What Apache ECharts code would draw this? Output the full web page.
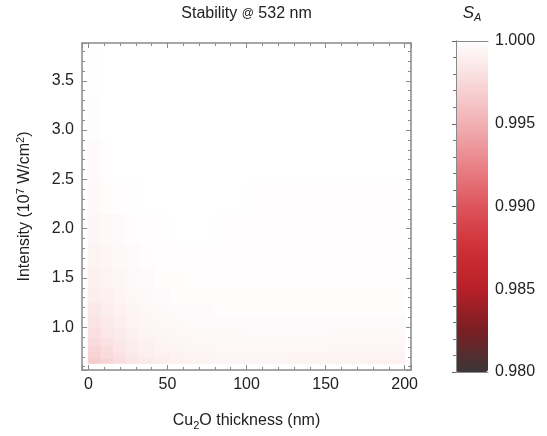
<!DOCTYPE html>
<html>
<head>
<meta charset="utf-8">
<script src="https://cdn.jsdelivr.net/npm/echarts@6/dist/echarts.min.js"></script>
<style>
html,body{margin:0;padding:0;background:#fff;}
#main{width:547px;height:436px;}
</style>
</head>
<body>
<div id="main"></div>
<script>
// cell edges (thickness in nm, intensity in 1e7 W/cm2)
var xEdges = [0, 8, 16, 24, 32, 42, 52, 64, 80, 100, 125, 150, 175, 200];
var yEdges = [0.635, 0.69, 0.75, 0.82, 0.9, 1.0, 1.12, 1.25, 1.4, 1.6, 1.85, 2.15, 2.5, 2.9, 3.35, 3.86];
// S_A per cell, bottom row first
var sRows = [
  [0.9967, 0.9973, 0.9978, 0.9983, 0.9986, 0.9989, 0.9991, 0.9992, 0.9993, 0.9993, 0.9992, 0.9992, 0.9991],
  [0.9970, 0.9976, 0.9981, 0.9985, 0.9988, 0.9990, 0.9992, 0.9993, 0.9994, 0.9994, 0.9993, 0.9993, 0.9992],
  [0.9973, 0.9978, 0.9983, 0.9987, 0.9990, 0.9992, 0.9993, 0.9994, 0.9995, 0.9995, 0.9995, 0.9994, 0.9994],
  [0.9976, 0.9981, 0.9985, 0.9989, 0.9991, 0.9993, 0.9994, 0.9995, 0.9996, 0.9996, 0.9996, 0.9995, 0.9995],
  [0.9979, 0.9984, 0.9987, 0.9990, 0.9993, 0.9994, 0.9995, 0.9996, 0.9996, 0.9997, 0.9997, 0.9996, 0.9996],
  [0.9982, 0.9986, 0.9989, 0.9992, 0.9994, 0.9995, 0.9996, 0.9997, 0.9997, 0.9997, 0.9997, 0.9997, 0.9997],
  [0.9985, 0.9988, 0.9991, 0.9993, 0.9995, 0.9996, 0.9997, 0.9997, 0.9998, 0.9998, 0.9998, 0.9998, 0.9998],
  [0.9988, 0.9990, 0.9993, 0.9995, 0.9996, 0.9997, 0.9998, 0.9998, 0.9998, 0.9998, 0.9998, 0.9998, 0.9998],
  [0.9990, 0.9992, 0.9994, 0.9996, 0.9997, 0.9998, 0.9998, 0.9999, 0.9999, 0.9999, 0.9999, 0.9999, 0.9999],
  [0.9992, 0.9994, 0.9996, 0.9997, 0.9998, 0.9999, 0.9999, 0.9999, 0.9999, 0.9999, 0.9999, 0.9999, 0.9999],
  [0.9994, 0.9996, 0.9997, 0.9998, 0.9999, 0.9999, 1.0000, 1.0000, 0.9999, 0.9999, 0.9999, 0.9999, 0.9999],
  [0.9996, 0.9998, 0.9999, 0.9999, 1.0000, 1.0000, 1.0000, 1.0000, 1.0000, 0.9999, 0.9999, 0.9999, 0.9999],
  [0.9997, 0.9999, 1.0000, 1.0000, 1.0000, 1.0000, 1.0000, 1.0000, 1.0000, 1.0000, 1.0000, 1.0000, 1.0000],
  [0.9998, 1.0000, 1.0000, 1.0000, 1.0000, 1.0000, 1.0000, 1.0000, 1.0000, 1.0000, 1.0000, 1.0000, 1.0000],
  [0.9999, 1.0000, 1.0000, 1.0000, 1.0000, 1.0000, 1.0000, 1.0000, 1.0000, 1.0000, 1.0000, 1.0000, 1.0000]
];
var barTicks = [0.980, 0.985, 0.990, 0.995, 1.000];

var cells = [];
for (var r = 0; r < sRows.length; r++) {
  for (var c = 0; c < sRows[r].length; c++) {
    cells.push([xEdges[c], xEdges[c + 1], yEdges[r], yEdges[r + 1], sRows[r][c]]);
  }
}

var chart = echarts.init(document.getElementById('main'));
var FONT = 'Liberation Sans';
var frame = '#8a8a8a';
var txt = '#222';

function plotAxis(extra) {
  var a = {
    type: 'value',
    gridIndex: 0,
    axisLine: {show: true, onZero: false, lineStyle: {color: frame, width: 1.5}},
    axisTick: {show: true, inside: true, length: 5, lineStyle: {color: frame, width: 1}},
    minorTick: {show: true, splitNumber: 5, length: 3, lineStyle: {color: frame, width: 1}},
    splitLine: {show: false},
    axisLabel: {show: false},
    z: 10
  };
  for (var k in extra) a[k] = extra[k];
  return a;
}

option = {
  animation: false,
  backgroundColor: '#fff',
  grid: [
    {left: 82, top: 43, width: 329, height: 329},
    {left: 456, top: 40, width: 32, height: 332}
  ],
  xAxis: [
    plotAxis({position: 'bottom', min: -4, max: 204, splitNumber: 4,
      axisLabel: {show: true, margin: 7, color: txt, fontFamily: FONT, fontSize: 16, showMinLabel: false, showMaxLabel: false},
      name: '{a|Cu}{sub|2}{a|O thickness (nm)}', nameLocation: 'middle', nameGap: 41,
      nameTextStyle: {fontSize: 16, rich: {
        a: {fontFamily: FONT, fontSize: 16, color: txt},
        sub: {fontFamily: FONT, fontSize: 11, color: txt, padding: [9, 0, 0, 0]}
      }}
    }),
    plotAxis({position: 'top', min: -4, max: 204, splitNumber: 4,
      name: '{a|Stability }{b|@}{a| 532 nm}', nameLocation: 'middle', nameGap: 21,
      nameTextStyle: {fontSize: 16, rich: {
        a: {fontFamily: FONT, fontSize: 16, color: txt},
        b: {fontFamily: FONT, fontSize: 12, color: txt}
      }}
    }),
    {type: 'value', gridIndex: 1, position: 'bottom', min: 0, max: 1,
      axisLine: {show: true, lineStyle: {color: frame, width: 1}},
      axisTick: {show: false}, axisLabel: {show: false}, splitLine: {show: false}, z: 10},
    {type: 'value', gridIndex: 1, position: 'top', min: 0, max: 1,
      axisLine: {show: true, lineStyle: {color: frame, width: 1}},
      axisTick: {show: false}, axisLabel: {show: false}, splitLine: {show: false}, z: 10,
      name: '{s|S}{a|A}', nameLocation: 'middle', nameGap: 18,
      nameTextStyle: {fontSize: 17, rich: {
        s: {fontFamily: FONT, fontSize: 17, fontStyle: 'italic', color: txt},
        a: {fontFamily: FONT, fontSize: 11, fontStyle: 'italic', color: txt, padding: [8, 0, 0, 0]}
      }}
    }
  ],
  yAxis: [
    plotAxis({position: 'left', min: 0.567, max: 3.883, splitNumber: 7,
      axisLabel: {show: true, margin: 8, color: txt, fontFamily: FONT, fontSize: 16, showMinLabel: false, showMaxLabel: false,
        formatter: function (v) { return v.toFixed(1); }},
      name: '{a|Intensity (10}{sup|7}{a| W/cm}{sup|2}{a|)}', nameLocation: 'middle', nameGap: 47,
      nameTextStyle: {fontSize: 16, rich: {
        a: {fontFamily: FONT, fontSize: 16, color: txt},
        sup: {fontFamily: FONT, fontSize: 11, color: txt, padding: [0, 0, 9, 0]}
      }}
    }),
    plotAxis({position: 'right', min: 0.567, max: 3.883, splitNumber: 7}),
    {type: 'value', gridIndex: 1, position: 'left', min: 0, max: 1,
      axisLine: {show: true, lineStyle: {color: frame, width: 1}},
      axisTick: {show: false}, axisLabel: {show: false}, splitLine: {show: false}, z: 10},
    {type: 'value', gridIndex: 1, position: 'right', min: barTicks[0], max: barTicks[barTicks.length - 1], interval: 0.005,
      axisLine: {show: true, lineStyle: {color: frame, width: 1}},
      axisTick: {show: true, inside: true, length: 4, lineStyle: {color: '#666'}},
      minorTick: {show: true, splitNumber: 5, length: 3, lineStyle: {color: '#777'}},
      axisLabel: {show: true, margin: 7, color: txt, fontFamily: FONT, fontSize: 16,
        formatter: function (v) { return v.toFixed(3); }},
      splitLine: {show: false}, z: 10}
  ],
  visualMap: {
    type: 'continuous',
    seriesIndex: 0,
    dimension: 4,
    min: barTicks[0],
    max: barTicks[barTicks.length - 1],
    left: 456,
    top: 40,
    itemWidth: 32,
    itemHeight: 332,
    padding: 0,
    calculable: false,
    hoverLink: false,
    realtime: false,
    inRange: {
      color: ['#3b3637', '#7a1f24', '#b81f28', '#d03038', '#de555c', '#e98389', '#f2b1b5', '#f9d9db', '#ffffff']
    }
  },
  series: [{
    type: 'custom',
    xAxisIndex: 0,
    yAxisIndex: 0,
    encode: {x: [0, 1], y: [2, 3]},
    renderItem: function (params, api) {
      var p0 = api.coord([api.value(0), api.value(3)]);
      var p1 = api.coord([api.value(1), api.value(2)]);
      var col = api.visual('color');
      return {
        type: 'rect',
        shape: {x: p0[0], y: p0[1], width: p1[0] - p0[0], height: p1[1] - p0[1]},
        style: {fill: col, stroke: col, lineWidth: 1}
      };
    },
    data: cells
  }]
};
chart.setOption(option);
</script>
</body>
</html>
